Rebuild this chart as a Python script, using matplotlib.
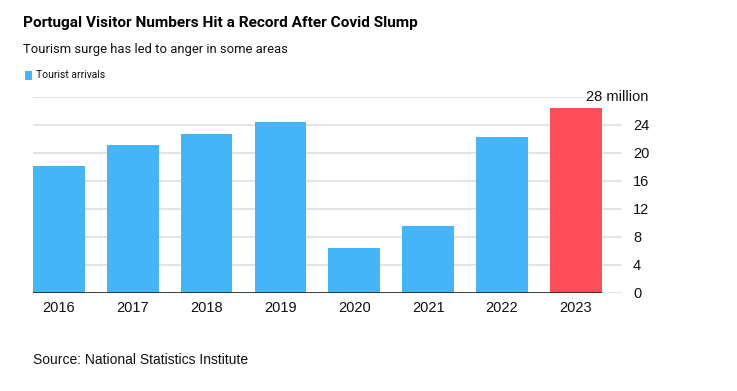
import matplotlib.pyplot as plt

years = ['2016', '2017', '2018', '2019', '2020', '2021', '2022', '2023']
arrivals = [18.2, 21.2, 22.7, 24.5, 6.4, 9.6, 22.3, 26.5]  # million
bar_colors = ['#45b5fa'] * 7 + ['#ff4d5a']
yticks = [0, 4, 8, 12, 16, 20, 24, 28]
ytick_labels = ['0', '4', '8', '12', '16', '20', '24', '']

plt.rcParams['font.family'] = ['Liberation Sans', 'DejaVu Sans']
narrow = ['Roboto', 'Liberation Sans']  # header font is condensed in the original

fig = plt.figure(figsize=(7.37, 3.91), dpi=100, facecolor='w')
ax = fig.add_axes([33 / 737, 1 - 293 / 391, 589 / 737, 196 / 391])

x = list(range(len(years)))
ax.bar(x, arrivals, width=0.7, color=bar_colors, zorder=2)
# black baseline only under the bars
ax.hlines(0, -0.35, len(years) - 1 + 0.35, color='#222222', lw=1.2, zorder=3)

ax.set_xlim(-0.35, 7.626)
ax.set_ylim(0, 28)
ax.set_xticks(x)
ax.set_xticklabels(years, fontsize=10.5)
ax.set_yticks(yticks)
ax.set_yticklabels(ytick_labels, fontsize=10.5)
ax.yaxis.tick_right()
ax.tick_params(axis='x', length=0, pad=6, colors='#111111')
ax.tick_params(axis='y', length=0, pad=8, colors='#111111')
ax.grid(axis='y', color='#e3e3e3', lw=1.4, zorder=0)
for s in ax.spines.values():
    s.set_visible(False)

# top tick label
ax.text(648 / 737, 1 - 97 / 391, '28 million', transform=fig.transFigure,
        ha='right', va='center', fontsize=10.5, color='#111111')

fig.text(23 / 737, 1 - 23 / 391, 'Portugal Visitor Numbers Hit a Record After Covid Slump',
         fontsize=11.1, fontweight='bold', ha='left', va='center', color='#000000',
         family=narrow)
fig.text(23 / 737, 1 - 49 / 391, 'Tourism surge has led to anger in some areas',
         fontsize=9.4, ha='left', va='center', color='#111111', family=narrow)
fig.patches.append(plt.Rectangle((25 / 737, 1 - 80 / 391), 7 / 737, 9 / 391,
                                 transform=fig.transFigure, color='#45b5fa', lw=0))
fig.text(36 / 737, 1 - 75 / 391, 'Tourist arrivals', fontsize=7.5,
         ha='left', va='center', color='#111111', family=narrow)
fig.text(33 / 737, 1 - 360 / 391, 'Source: National Statistics Institute',
         fontsize=10, ha='left', va='center', color='#111111')

plt.savefig('out.png', dpi=100)
